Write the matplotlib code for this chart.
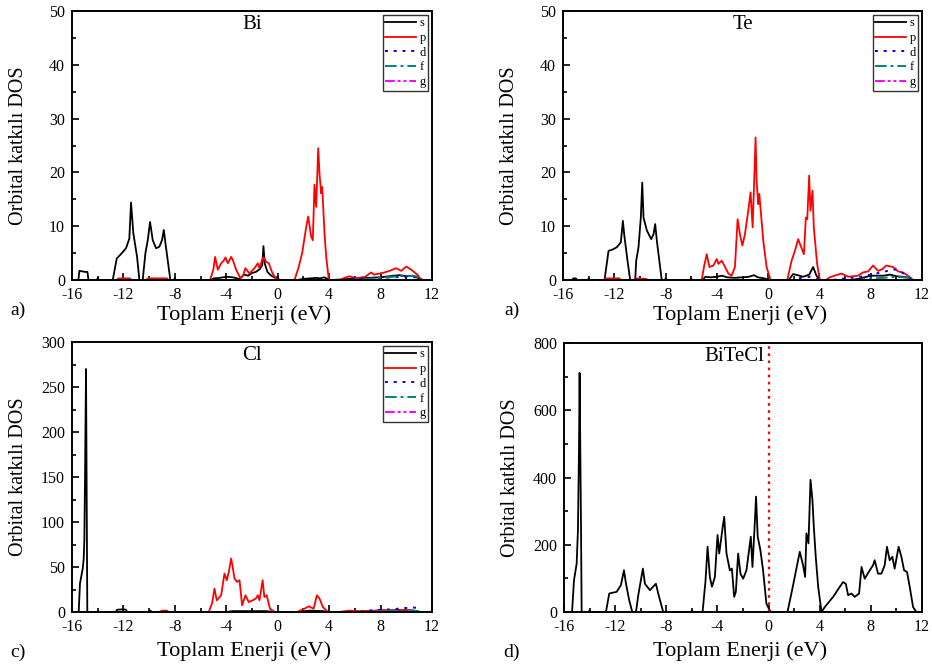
import matplotlib
matplotlib.use("Agg")
import matplotlib.pyplot as plt
from matplotlib.ticker import MultipleLocator

plt.rcParams['font.family'] = ['Liberation Serif', 'DejaVu Serif']

# ---------------- data (energy eV, DOS) ----------------
bi_s = [(-16, 0), (-15.5, 0), (-15.43, 1.7), (-15.2, 1.6), (-14.95, 1.5), (-14.8, 1.5), (-14.72, 0),
        (-14.05, 0), (-14.0, 0.4), (-13.95, 0), (-12.83, 0), (-12.52, 4.0), (-12.2, 4.8), (-11.8, 5.9),
        (-11.54, 7.7), (-11.41, 14.4), (-11.23, 8.7), (-10.94, 4.3), (-10.76, 0), (-10.5, 0), (-10.29, 5.0),
        (-10.1, 7.5), (-9.93, 10.8), (-9.72, 7.4), (-9.46, 5.9), (-9.2, 6.2), (-9.0, 7.4), (-8.86, 9.3),
        (-8.73, 6.8), (-8.35, 0), (-8.05, 0), (-8.0, 0.4), (-7.95, 0), (-5.2, 0), (-5.0, 0.3), (-4.5, 0.4),
        (-4.0, 0.6), (-3.5, 0.5), (-3.0, 0.2), (-2.6, 1.0), (-2.3, 0.8), (-2.0, 1.3), (-1.7, 1.5), (-1.4, 2.0),
        (-1.2, 2.8), (-1.11, 6.3), (-1.0, 3.0), (-0.8, 1.5), (-0.5, 0.8), (-0.2, 0.4), (0.0, 0.6), (0.1, 0),
        (1.5, 0), (2.0, 0.2), (2.5, 0.3), (3.0, 0.4), (3.3, 0.3), (3.6, 0.5), (3.9, 0.2), (4.1, 0),
        (5.0, 0.1), (6.0, 0.3), (7.0, 0.4), (8.0, 0.5), (9.0, 0.8), (9.5, 0.9), (10.0, 0.7), (10.5, 0.8),
        (11.0, 0.3), (11.3, 0), (12, 0)]
bi_p = [(-16, 0), (-12.5, 0), (-12.4, 0.3), (-11.5, 0.3), (-11.4, 0), (-10.2, 0), (-10.1, 0.3), (-8.6, 0.3),
        (-8.5, 0), (-5.26, 0), (-5.0, 2.0), (-4.87, 4.3), (-4.66, 1.9), (-4.4, 3.1), (-4.2, 3.6), (-4.06, 4.2),
        (-3.88, 3.1), (-3.62, 4.3), (-3.49, 3.7), (-3.23, 1.9), (-2.9, 0.3), (-2.7, 0.8), (-2.51, 2.2),
        (-2.2, 1.2), (-1.81, 2.2), (-1.55, 3.1), (-1.42, 2.2), (-1.2, 3.8), (-1.11, 4.2), (-0.9, 3.4),
        (-0.69, 3.1), (-0.45, 1.5), (-0.25, 0.6), (0.0, 0), (1.31, 0), (1.64, 2.5), (1.9, 5.0), (2.22, 9.9),
        (2.37, 11.8), (2.6, 8.1), (2.73, 7.4), (2.86, 17.7), (2.99, 13.6), (3.15, 24.5), (3.25, 19.8),
        (3.38, 16.1), (3.46, 17.3), (3.64, 8.7), (3.77, 4.3), (3.98, 0), (4.8, 0), (5.2, 0.4), (5.59, 0.7),
        (6.1, 0.3), (6.8, 0.6), (7.27, 1.4), (7.5, 1.0), (7.92, 1.2), (8.3, 1.4), (8.7, 1.7), (9.22, 2.2),
        (9.6, 1.7), (10.0, 2.5), (10.39, 1.9), (10.6, 1.5), (10.9, 0.9), (11.17, 0), (12, 0)]
bi_d = [(-16, 0), (5, 0), (6, 0.3), (7, 0.3), (8, 0.4), (9, 0.5), (10, 0.6), (10.8, 0.5), (11.1, 0), (12, 0)]
bi_f = [(-16, 0), (6, 0), (7, 0.2), (8, 0.4), (9, 0.6), (10, 0.8), (10.8, 0.7), (11.1, 0), (12, 0)]
bi_g = [(-16, 0), (12, 0)]

te_s = [(-16, 0), (-15.3, 0), (-15.2, 0.3), (-15.0, 0.3), (-14.9, 0), (-14.05, 0), (-14.0, 0.3), (-13.95, 0),
        (-12.76, 0), (-12.45, 5.4), (-12.1, 5.7), (-11.8, 6.1), (-11.49, 7.0), (-11.33, 11.0), (-11.23, 8.5),
        (-10.97, 3.6), (-10.76, 0), (-10.37, 0), (-10.29, 3.6), (-10.11, 6.1), (-9.93, 11.6), (-9.82, 18.1),
        (-9.72, 11.6), (-9.46, 9.2), (-9.12, 7.6), (-8.94, 8.5), (-8.81, 10.4), (-8.68, 7.3), (-8.3, 0),
        (-8.05, 0), (-8.0, 0.3), (-7.95, 0), (-6.05, 0), (-6.0, 0.3), (-5.95, 0), (-5.1, 0), (-4.9, 0.6),
        (-4.5, 0.5), (-4.0, 0.6), (-3.6, 0.8), (-3.2, 0.5), (-2.6, 0.4), (-2.0, 0.5), (-1.5, 0.6), (-1.1, 0.9),
        (-0.8, 0.5), (-0.3, 0.3), (0.1, 0), (1.6, 0), (1.95, 1.1), (2.3, 0.9), (2.73, 0.6), (3.2, 1.0),
        (3.51, 2.4), (3.77, 0.8), (4.05, 0), (6.5, 0), (7.2, 0.3), (8.0, 0.8), (9.0, 0.8), (9.5, 1.0),
        (10.0, 0.7), (10.5, 0.6), (11.0, 0.4), (11.3, 0), (12, 0)]
te_p = [(-16, 0), (-12.8, 0), (-12.7, 0.3), (-11.6, 0.3), (-11.5, 0), (-10.4, 0), (-10.3, 0.3), (-9.5, 0.2),
        (-9.4, 0), (-5.18, 0), (-5.0, 2.5), (-4.79, 4.8), (-4.58, 2.4), (-4.27, 2.7), (-4.01, 3.9), (-3.88, 3.0),
        (-3.62, 3.6), (-3.42, 2.7), (-3.1, 1.2), (-2.85, 0.8), (-2.59, 2.4), (-2.38, 11.3), (-2.2, 8.5),
        (-2.01, 6.4), (-1.81, 8.5), (-1.55, 12.9), (-1.37, 16.3), (-1.21, 9.8), (-1.08, 19.1), (-0.98, 26.5),
        (-0.9, 18.4), (-0.77, 14.1), (-0.69, 16.0), (-0.38, 7.3), (-0.12, 2.4), (0.19, 0), (1.49, 0),
        (1.83, 3.6), (2.1, 5.5), (2.34, 7.6), (2.53, 6.4), (2.79, 4.8), (2.94, 11.6), (3.05, 11.3), (3.2, 19.4),
        (3.3, 12.9), (3.46, 16.6), (3.56, 9.8), (3.82, 3.0), (4.03, 0), (4.5, 0), (4.81, 0.5), (5.3, 0.9),
        (5.72, 1.2), (6.24, 0.6), (7.0, 0.8), (7.4, 1.4), (7.8, 1.6), (8.18, 2.7), (8.57, 1.7), (8.9, 2.0),
        (9.22, 2.7), (9.74, 2.4), (10.13, 1.6), (10.5, 1.4), (10.78, 1.0), (11.3, 0), (12, 0)]
te_d = [(-16, 0), (2.0, 0), (2.3, 0.3), (3.3, 0.6), (4.0, 0), (5, 0), (6, 0.3), (7, 0.5), (8, 1.0), (9, 1.5),
        (9.5, 1.8), (10.0, 2.0), (10.5, 1.3), (11, 0.5), (11.3, 0), (12, 0)]
te_f = [(-16, 0), (7, 0), (8, 0.3), (9, 0.4), (10, 0.6), (11, 0.4), (11.2, 0), (12, 0)]
te_g = [(-16, 0), (12, 0)]

cl_s = [(-16, 0), (-15.48, 0), (-15.38, 31.6), (-15.17, 48), (-15.09, 59), (-15.04, 80), (-14.99, 145),
        (-14.91, 270), (-14.86, 135), (-14.81, 0), (-12.6, 0), (-12.5, 2.5), (-12.0, 3), (-11.8, 2.5),
        (-11.7, 0), (-10.0, 0), (-9.9, 1.5), (-9.8, 0), (-4, 0), (-3.5, 1), (-1, 1), (0, 0), (1.5, 0),
        (2.5, 1.5), (3.5, 1.0), (4, 0), (7, 0), (8, 2), (9, 1), (10, 1.5), (11, 0), (12, 0)]
cl_p = [(-16, 0), (-9.2, 0), (-9.0, 1.5), (-8.6, 1.5), (-8.5, 0), (-5.36, 0), (-5.1, 10), (-4.92, 26),
        (-4.74, 13), (-4.4, 18.6), (-4.14, 42.7), (-3.96, 35.3), (-3.8, 45), (-3.62, 59.4), (-3.5, 50),
        (-3.36, 37.1), (-3.16, 33.4), (-2.97, 35.3), (-2.77, 7.4), (-2.51, 18.6), (-2.25, 11.1), (-1.94, 13),
        (-1.7, 15), (-1.55, 18.6), (-1.42, 13), (-1.17, 35.3), (-1.04, 16.7), (-0.86, 18.6), (-0.6, 3.7),
        (-0.25, 0), (1.49, 0), (2.08, 3.7), (2.42, 6.3), (2.79, 3.7), (3.05, 18.6), (3.25, 14.9), (3.51, 5.6),
        (3.9, 0), (4.8, 0), (5.5, 1.5), (6.5, 1.0), (7.5, 1.5), (8.5, 2.0), (9.5, 2.5), (10.5, 2.0), (11, 0),
        (12, 0)]
cl_d = [(-16, 0), (6, 0), (7, 1.5), (8, 2.5), (9, 3), (9.5, 4), (10, 4.5), (10.5, 5), (10.9, 4.5), (11.1, 0),
        (12, 0)]
cl_f = [(-16, 0), (7, 0), (8, 1), (9, 1.5), (10, 2), (11, 1), (11.2, 0), (12, 0)]
cl_g = [(-16, 0), (12, 0)]

bitecl_total = [(-16, 0), (-15.37, 0), (-15.22, 94), (-15.01, 144), (-14.91, 243), (-14.83, 477),
                (-14.78, 711), (-14.67, 253), (-14.62, 0), (-14.05, 0), (-14.0, 5), (-13.95, 0), (-12.72, 0),
                (-12.46, 55), (-11.88, 60), (-11.55, 80), (-11.31, 124), (-11.15, 84), (-10.9, 35),
                (-10.66, 0), (-10.37, 0), (-10.19, 50), (-9.83, 129), (-9.67, 84), (-9.28, 65), (-8.81, 84),
                (-8.63, 55), (-8.24, 0), (-6.05, 0), (-6.0, 5), (-5.95, 0), (-5.16, 0), (-4.93, 94),
                (-4.77, 194), (-4.59, 104), (-4.43, 75), (-4.2, 104), (-3.99, 229), (-3.86, 174), (-3.6, 249),
                (-3.47, 283), (-3.29, 174), (-3.03, 124), (-2.87, 129), (-2.69, 45), (-2.56, 60), (-2.38, 174),
                (-2.2, 114), (-1.99, 99), (-1.73, 124), (-1.39, 224), (-1.26, 134), (-1.08, 263), (-0.98, 343),
                (-0.85, 224), (-0.64, 184), (-0.43, 124), (-0.17, 25), (0.09, 5), (0.2, 0), (1.48, 0),
                (1.92, 80), (2.44, 179), (2.7, 139), (2.86, 104), (2.96, 234), (3.12, 204), (3.28, 393),
                (3.43, 333), (3.54, 253), (3.69, 164), (3.88, 75), (4.14, 0), (4.4, 15), (5.05, 45), (5.57, 75),
                (5.83, 89), (6.04, 84), (6.22, 50), (6.48, 55), (6.74, 45), (7.08, 55), (7.27, 134), (7.52, 99),
                (7.91, 124), (8.17, 139), (8.3, 154), (8.56, 114), (8.82, 114), (9.08, 139), (9.26, 194),
                (9.47, 154), (9.68, 164), (9.86, 129), (10.17, 194), (10.39, 164), (10.6, 124), (10.83, 119),
                (11.04, 75), (11.3, 15), (11.56, 0), (12, 0)]

orbital_labels = ['s', 'p', 'd', 'f', 'g']
x_ticks = [-16, -12, -8, -4, 0, 4, 8, 12]
fermi_level = 0.0

# ---------------- styling ----------------
styles = [dict(color='black', ls='-', lw=1.3),
          dict(color='red', ls='-', lw=1.3),
          dict(color='blue', ls=(0, (1.5, 3)), lw=1.4),
          dict(color='#008080', ls=(0, (6, 2, 1.5, 2)), lw=1.4),
          dict(color='magenta', ls=(0, (5, 1.5, 1.5, 1.5, 1.5, 1.5)), lw=1.4)]

fig = plt.figure(figsize=(9.32, 6.70), dpi=100)
W, H = 932, 670


def make_ax(l, t, r, b):
    return fig.add_axes([l / W, 1 - b / H, (r - l) / W, (b - t) / H])


def style_ax(ax, ymax, ymaj, xlab_x, xlab_y):
    ax.set_xlim(-16, 12)
    ax.set_ylim(0, ymax)
    ax.set_xticks(x_ticks)
    ax.set_xticklabels([str(t) for t in x_ticks])
    ax.xaxis.set_minor_locator(MultipleLocator(2))
    ax.yaxis.set_major_locator(MultipleLocator(ymaj))
    ax.yaxis.set_minor_locator(MultipleLocator(ymaj / 2))
    ax.tick_params(which='both', direction='in', top=False, right=False, labelsize=11.5, width=1.2)
    ax.tick_params(which='major', length=5)
    ax.tick_params(axis='x', which='major', pad=5)
    ax.tick_params(axis='y', which='major', pad=5)
    ax.tick_params(which='minor', length=3)
    for sp in ax.spines.values():
        sp.set_linewidth(1.4)
    ax.set_xlabel('Toplam Enerji (eV)', fontsize=16)
    ax.xaxis.set_label_coords(xlab_x, xlab_y)
    ax.set_ylabel('Orbital katkılı DOS', fontsize=14.5)
    ax.yaxis.set_label_coords(-0.122, 0.5)


def plot_orbitals(ax, series, title):
    for data, lab, st in zip(series, orbital_labels, styles):
        xs = [p[0] for p in data]
        ys = [p[1] for p in data]
        ax.plot(xs, ys, label=lab, **st)
    ax.text(0.5, 0.985, title, transform=ax.transAxes, ha='center', va='top', fontsize=15)
    leg = ax.legend(loc='upper right', fontsize=9, frameon=True, fancybox=False, edgecolor='black',
                    handlelength=2.5, handletextpad=0.25, labelspacing=0.22, borderpad=0.2,
                    borderaxespad=0.3)
    leg.get_frame().set_linewidth(1.0)


ax1 = make_ax(72, 11, 432, 280)
plot_orbitals(ax1, [bi_s, bi_p, bi_d, bi_f, bi_g], 'Bi')
style_ax(ax1, 50, 10, 0.478, -0.095)

ax2 = make_ax(563, 11, 922, 280)
plot_orbitals(ax2, [te_s, te_p, te_d, te_f, te_g], 'Te')
style_ax(ax2, 50, 10, 0.493, -0.095)

ax3 = make_ax(72, 342, 432, 612)
plot_orbitals(ax3, [cl_s, cl_p, cl_d, cl_f, cl_g], 'Cl')
style_ax(ax3, 300, 50, 0.478, -0.11)

ax4 = make_ax(564, 343, 922, 612)
ax4.plot([p[0] for p in bitecl_total], [p[1] for p in bitecl_total], color='black', lw=1.3)
ax4.axvline(fermi_level, color='red', ls=(0, (1.2, 2)), lw=1.6)
ax4.text(0.475, 0.985, 'BiTeCl', transform=ax4.transAxes, ha='center', va='top', fontsize=15)
style_ax(ax4, 800, 200, 0.493, -0.11)

for txt, x, y in [('a)', 18, 310), ('a)', 512, 310), ('c)', 18, 652), ('d)', 512, 652)]:
    fig.text(x / W, 1 - y / H, txt, ha='center', va='center', fontsize=14)

fig.savefig('out.png', dpi=100)
